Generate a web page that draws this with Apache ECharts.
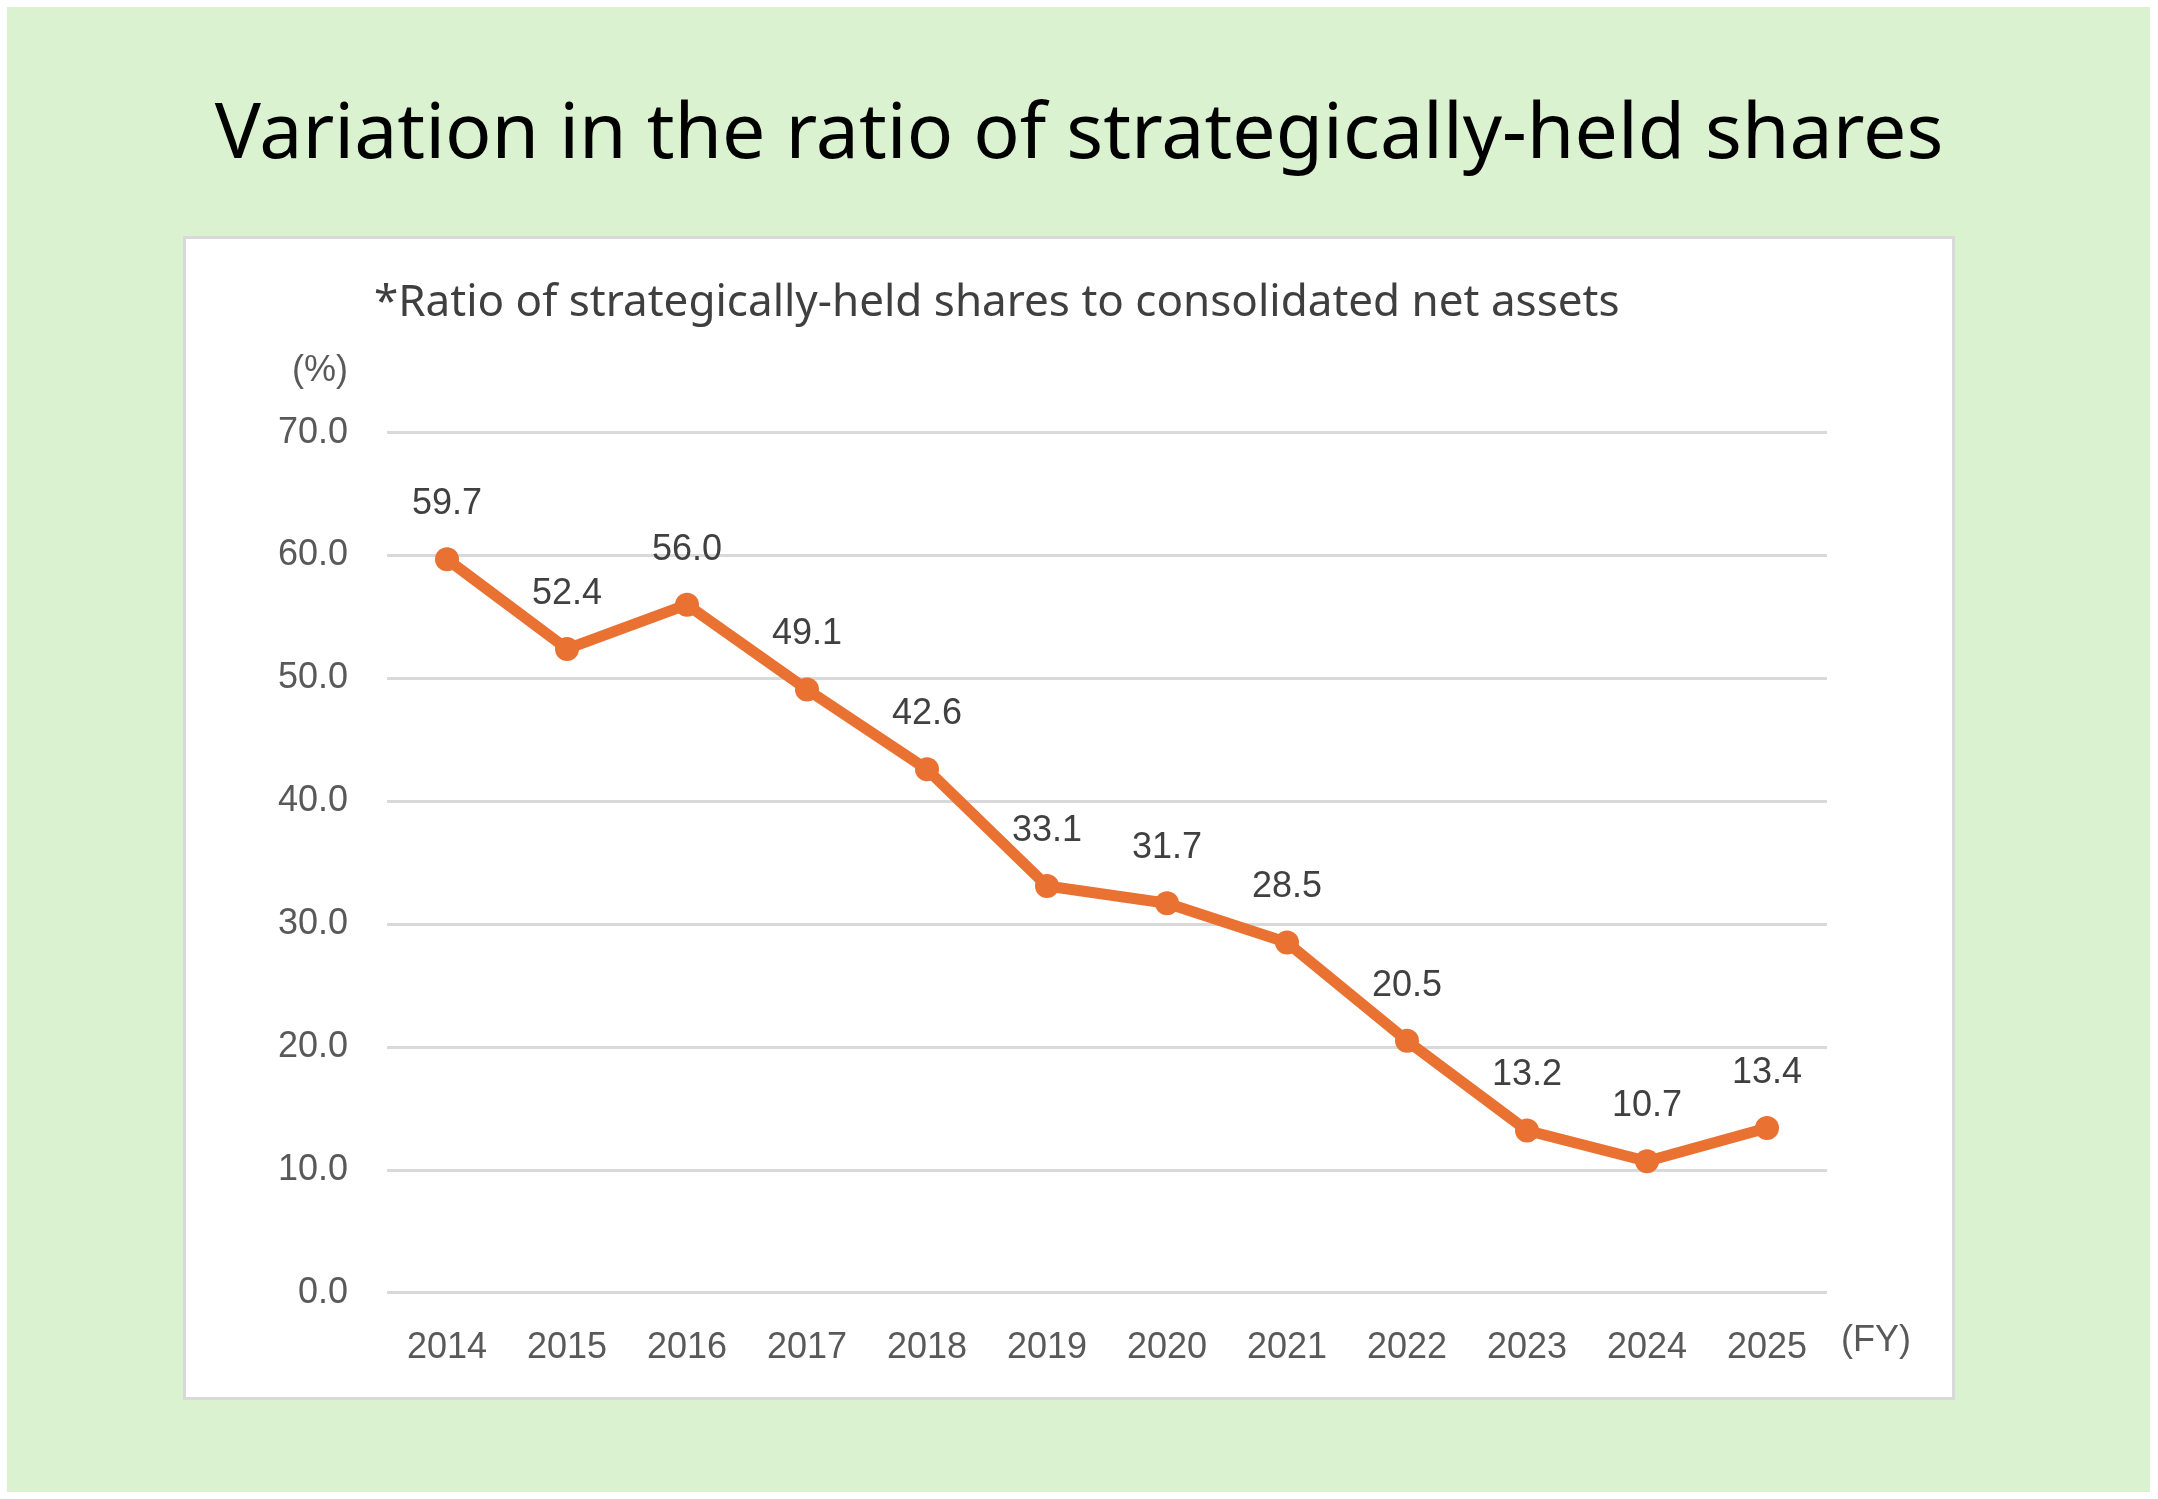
<!DOCTYPE html>
<html>
<head>
<meta charset="utf-8">
<script src="https://cdn.jsdelivr.net/npm/echarts@6/dist/echarts.min.js"></script>
<style>
  html, body { margin: 0; padding: 0; background: #fff; }
  #wrap { position: relative; width: 2158px; height: 1499px; overflow: hidden; }
  #bg { position: absolute; left: 7px; top: 7px; width: 2143px; height: 1485px; background: #daf2d0; }
  #panel { position: absolute; left: 183px; top: 236px; width: 1766px; height: 1158px; background: #fff; border: 3px solid #d9d9d9; }
  #chart { position: absolute; left: 0; top: 0; width: 2158px; height: 1499px; }
</style>
</head>
<body>
<div id="wrap">
  <div id="bg"></div>
  <div id="panel"></div>
  <div id="chart"></div>
</div>
<script>
// 図表データ
const years = ['2014', '2015', '2016', '2017', '2018', '2019', '2020', '2021', '2022', '2023', '2024', '2025'];
const ratios = [59.7, 52.4, 56.0, 49.1, 42.6, 33.1, 31.7, 28.5, 20.5, 13.2, 10.7, 13.4];
const yTicks = [0, 10, 20, 30, 40, 50, 60, 70];

const titleText = 'Variation in the ratio of strategically-held shares';
const noteText = '*Ratio of strategically-held shares to consolidated net assets';

const numFont = '"Liberation Sans", Arial, sans-serif';
const textFont = '"Noto Sans", "Open Sans", sans-serif';

const chart = echarts.init(document.getElementById('chart'), null, { renderer: 'canvas' });

chart.setOption({
  backgroundColor: 'transparent',
  animation: false,
  grid: { left: 387, right: 331, top: 432.7, bottom: 206.3 },
  xAxis: {
    type: 'category',
    data: years,
    boundaryGap: true,
    axisLine: { show: false },
    axisTick: { show: false },
    axisLabel: { color: '#595959', fontSize: 36, fontFamily: numFont, margin: 37 }
  },
  yAxis: {
    type: 'value',
    min: yTicks[0],
    max: yTicks[yTicks.length - 1],
    interval: 10,
    axisLine: { show: false },
    axisTick: { show: false },
    splitLine: { lineStyle: { color: '#d9d9d9', width: 3 } },
    axisLabel: {
      color: '#595959', fontSize: 36, fontFamily: numFont, margin: 39,
      formatter: v => v.toFixed(1)
    }
  },
  series: [{
    type: 'line',
    data: ratios,
    symbol: 'circle',
    symbolSize: 24,
    itemStyle: { color: '#e97132' },
    lineStyle: { color: '#e97132', width: 11 },
    label: {
      show: true,
      position: 'top',
      distance: 25,
      color: '#404040',
      fontSize: 36,
      fontFamily: numFont,
      formatter: p => p.value.toFixed(1)
    }
  }],
  graphic: [
    {
      type: 'text', left: 'center', top: 98,
      style: { text: titleText, fill: '#000', font: '77px ' + textFont }
    },
    {
      type: 'text', left: 374, top: 281,
      style: { text: noteText, fill: '#3f3f3f', font: '44px ' + textFont }
    },
    {
      type: 'text', right: 2158 - 348, top: 353,
      style: { text: '(%)', fill: '#595959', font: '36px ' + numFont }
    },
    {
      type: 'text', left: 1841, top: 1323,
      style: { text: '(FY)', fill: '#595959', font: '36px ' + numFont }
    }
  ]
});
</script>
</body>
</html>
